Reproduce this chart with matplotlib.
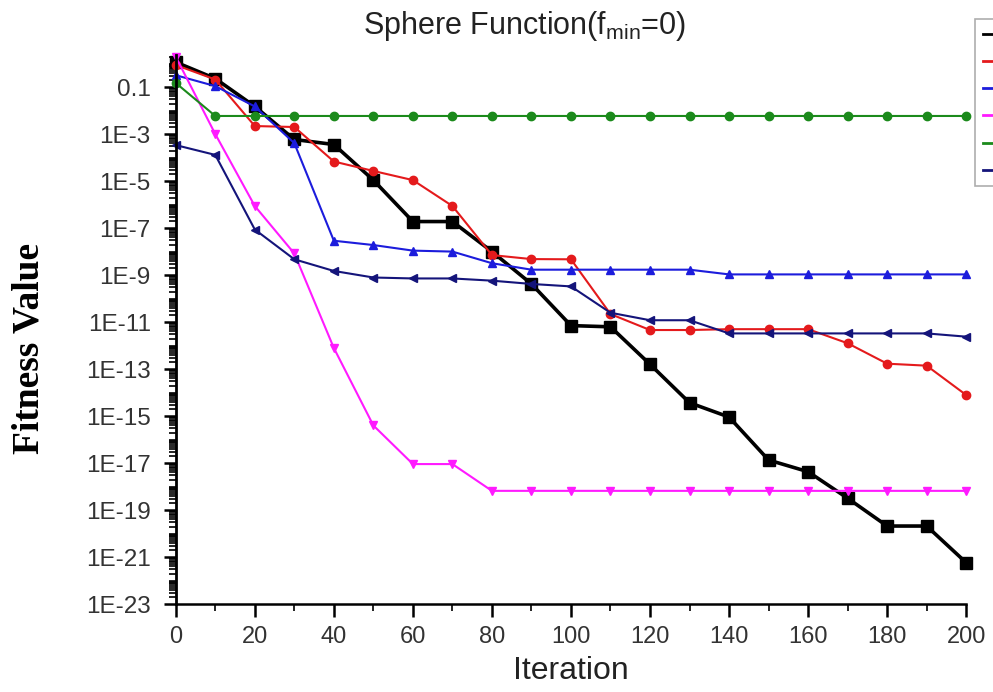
import numpy as np
import matplotlib.pyplot as plt
from matplotlib.ticker import FixedLocator, FuncFormatter, MultipleLocator, NullFormatter

# Data (Sphere function convergence curves)
iters = list(range(0, 201, 10))

black = [1.15, 0.23, 1.5e-2, 5.9e-4, 3.6e-4, 1.1e-5, 1.9e-7, 1.9e-7, 1.0e-8, 4.2e-10,
         7.1e-12, 6.3e-12, 1.6e-13, 3.7e-15, 9.1e-16, 1.35e-17, 4.3e-18, 3.2e-19,
         2.1e-20, 2.1e-20, 5.8e-22]
red = [0.87, 0.21, 2.2e-3, 2.0e-3, 6.8e-5, 2.7e-5, 1.1e-5, 8.7e-7, 7.1e-9, 4.8e-9,
       4.7e-9, 2.2e-11, 4.6e-12, 4.6e-12, 5.0e-12, 5.0e-12, 5.0e-12, 1.26e-12,
       1.7e-13, 1.4e-13, 7.9e-15]
blue = [0.32, 0.11, 1.5e-2, 4.1e-4, 2.9e-8, 1.9e-8, 1.1e-8, 1.0e-8, 3.2e-9, 1.7e-9,
        1.7e-9, 1.7e-9, 1.7e-9, 1.7e-9, 1.07e-9, 1.07e-9, 1.07e-9, 1.07e-9,
        1.07e-9, 1.07e-9, 1.07e-9]
magenta = [1.95, 1.0e-3, 8.7e-7, 8.3e-9, 7.9e-13, 4.0e-16, 9.1e-18, 9.1e-18, 6.6e-19,
           6.6e-19, 6.6e-19, 6.6e-19, 6.6e-19, 6.6e-19, 6.6e-19, 6.6e-19, 6.6e-19,
           6.6e-19, 6.6e-19, 6.6e-19, 6.6e-19]
green = [0.15] + [5.9e-3] * 20
navy = [3.4e-4, 1.3e-4, 8.7e-8, 4.7e-9, 1.5e-9, 7.9e-10, 7.2e-10, 7.2e-10, 5.8e-10,
        4.2e-10, 3.3e-10, 2.5e-11, 1.2e-11, 1.2e-11, 3.3e-12, 3.3e-12, 3.3e-12,
        3.3e-12, 3.3e-12, 3.3e-12, 2.4e-12]

major_exps = list(range(-1, -24, -2))

fig = plt.figure(figsize=(9.93, 6.92), dpi=100)
ax = fig.add_axes([0.177, 0.127, 0.796, 0.793])

styles = [
    (black, "black", "s", 8, 2.6),
    (red, "#e41a1c", "o", 6, 1.5),
    (blue, "#1c1cdc", "^", 6, 1.5),
    (magenta, "#ff1aff", "v", 6, 1.5),
    (green, "#1b8a1b", "o", 6, 1.5),
    (navy, "#14147a", "<", 6, 1.5),
]
handles = []
for vals, col, mk, ms, lw in styles:
    ln, = ax.plot(iters, vals, color=col, marker=mk, markersize=ms, linewidth=lw,
                  clip_on=False)
    handles.append(ln)

ax.set_yscale("log")
ax.set_ylim(1e-23, 10 ** 0.35)
ax.set_xlim(0, 200)

ax.yaxis.set_major_locator(FixedLocator([10.0 ** e for e in major_exps]))
minor = []
for d in range(-23, 1):
    for m in range(1, 10):
        if m == 1 and d in major_exps:
            continue
        minor.append(m * 10.0 ** d)
ax.yaxis.set_minor_locator(FixedLocator(minor))


def fmt(v, pos):
    e = int(round(np.log10(v)))
    if e == -1:
        return "0.1"
    return "1E%d" % e


ax.yaxis.set_major_formatter(FuncFormatter(fmt))
ax.yaxis.set_minor_formatter(NullFormatter())
ax.xaxis.set_major_locator(MultipleLocator(20))
ax.xaxis.set_minor_locator(MultipleLocator(10))

for s in ["top", "right"]:
    ax.spines[s].set_visible(False)
ax.spines["left"].set_linewidth(2)
ax.spines["bottom"].set_linewidth(1.8)

ax.tick_params(axis="both", which="major", direction="out", length=9, width=1.8,
               labelsize=17, colors="black", labelcolor="#333333")
ax.tick_params(axis="y", which="major", pad=9, labelsize=17.5)
ax.tick_params(axis="x", which="major", pad=7)
ax.tick_params(axis="both", which="minor", direction="out", length=5, width=1.2)
for lab in ax.get_xticklabels() + ax.get_yticklabels():
    lab.set_family("Liberation Sans")

fig.text(0.528, 0.962, "Sphere Function(f$_{\\mathregular{min}}$=0)", ha="center",
         va="center", fontsize=22, family="Liberation Sans", color="#222222")
fig.text(0.575, 0.008, "Iteration", ha="center", va="bottom", fontsize=23,
         family="Liberation Sans", color="#222222")
fig.text(0.029, 0.497, "Fitness Value", ha="center", va="center", rotation=90,
         fontsize=27, fontweight="bold", family="Liberation Serif")

leg = fig.legend(handles, [""] * 6, loc="upper left", bbox_to_anchor=(0.982, 0.972),
                 bbox_transform=fig.transFigure, frameon=True, fancybox=False,
                 handlelength=3, borderpad=0.6, labelspacing=0.95, handletextpad=0.2,
                 borderaxespad=0)
leg.get_frame().set_edgecolor("#999999")
leg.get_frame().set_linewidth(1.2)
for lh in leg.get_lines():
    lh.set_marker("")
    lh.set_linewidth(2)

fig.savefig("out.png", dpi=100)
